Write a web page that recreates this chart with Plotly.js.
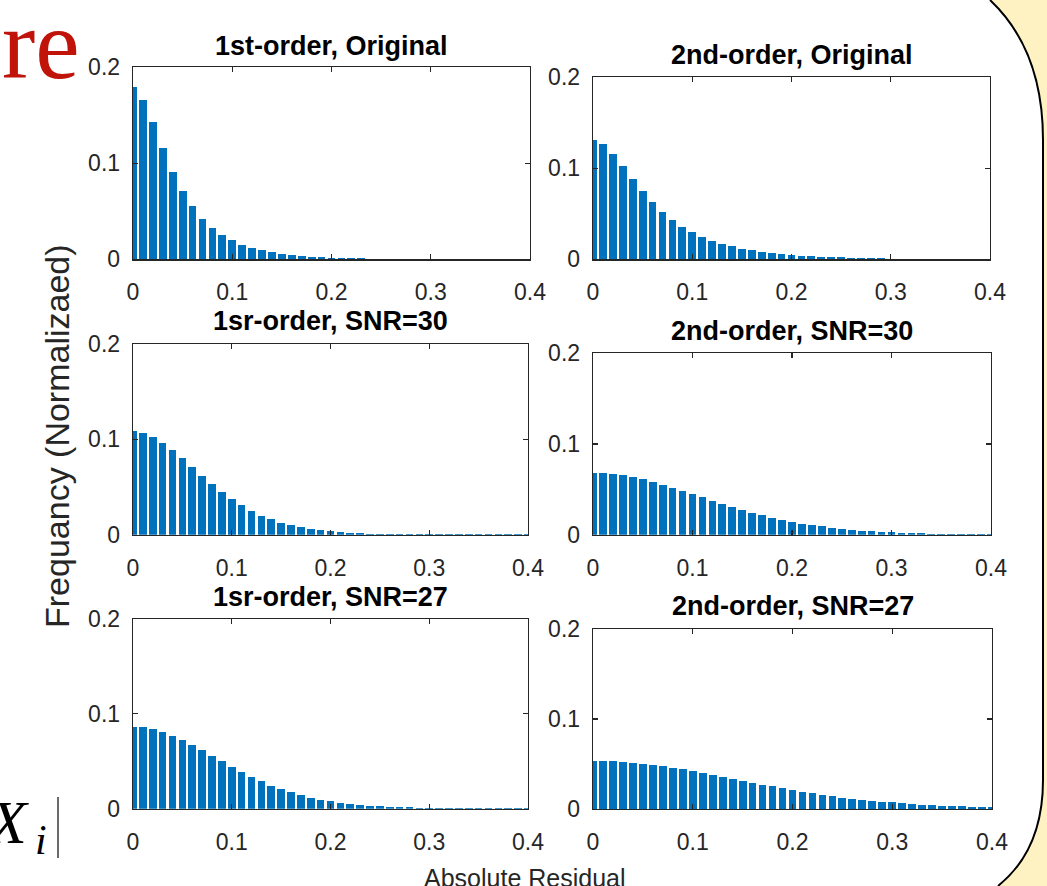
<!DOCTYPE html>
<html>
<head>
<meta charset="utf-8">
<script src="https://cdn.plot.ly/plotly-3.0.1.min.js"></script>
<style>html,body{margin:0;padding:0;background:#fff;}#chart{width:1047px;height:886px;}</style>
</head>
<body>
<div id="chart"></div>
<script>
// Bin centers (Absolute Residual)
const bins = [0,0.01,0.02,0.03,0.04,0.05,0.06,0.07,0.08,0.09,0.10,0.11,0.12,0.13,0.14,0.15,0.16,0.17,0.18,0.19,0.20,0.21,0.22,0.23,0.24,0.25,0.26,0.27,0.28,0.29,0.30,0.31,0.32,0.33,0.34,0.35,0.36,0.37,0.38,0.39,0.40];

const firstOriginal = [0.179,0.166,0.143,0.116,0.091,0.071,0.055,0.042,0.033,0.0255,0.020,0.015,0.012,0.0098,0.0077,0.0059,0.0045,0.0035,0.0025,0.0024,0.0014,0.001,0.001,0.001,0.0006,0.0005,0.0005,0.0004,0.0004,0.0003,0.0003,0.0003,0.0002,0.0002,0.0002,0.0002,0.0002,0.0002,0.0002,0.0002,0.0002];
const secondOriginal = [0.131,0.126,0.115,0.102,0.088,0.075,0.063,0.052,0.043,0.0355,0.030,0.0245,0.020,0.017,0.0146,0.0113,0.010,0.008,0.0069,0.0058,0.0047,0.0036,0.0036,0.0026,0.0026,0.0024,0.0015,0.0013,0.0012,0.0012,0.0008,0.0006,0.0005,0.0005,0.0005,0.0005,0.0005,0.0005,0.0004,0.0004,0.0004];
const firstSNR30 = [0.1084,0.1066,0.1024,0.0962,0.0888,0.0804,0.071,0.0615,0.0531,0.0448,0.0374,0.0311,0.0248,0.0196,0.0164,0.0122,0.0101,0.008,0.0059,0.0049,0.0038,0.0028,0.0017,0.0017,0.001,0.0008,0.0007,0.0006,0.0005,0.0005,0.0004,0.0004,0.0003,0.0003,0.0003,0.0003,0.0003,0.0003,0.0003,0.0003,0.0003];
const secondSNR30 = [0.0684,0.068,0.0669,0.0658,0.0636,0.0614,0.0581,0.0548,0.0515,0.0482,0.0449,0.0415,0.0371,0.0338,0.0305,0.0272,0.0239,0.0217,0.0184,0.0162,0.014,0.0118,0.0107,0.0096,0.0074,0.0063,0.0051,0.004,0.004,0.0029,0.0029,0.0018,0.0018,0.0018,0.0008,0.0007,0.0007,0.0007,0.0007,0.0006,0.0006];
const firstSNR27 = [0.0866,0.0863,0.0842,0.081,0.0768,0.0725,0.0673,0.062,0.0556,0.0504,0.044,0.0387,0.0335,0.0292,0.0239,0.0208,0.0176,0.0144,0.0113,0.0092,0.0081,0.006,0.0049,0.0039,0.0028,0.0028,0.0018,0.0018,0.0018,0.001,0.0007,0.0006,0.0005,0.0005,0.0004,0.0004,0.0004,0.0004,0.0004,0.0004,0.0004];
const secondSNR27 = [0.0535,0.0531,0.0531,0.052,0.0509,0.0498,0.0487,0.0476,0.0454,0.0443,0.0421,0.0399,0.0376,0.0354,0.0332,0.031,0.0288,0.0266,0.0255,0.0232,0.021,0.0188,0.0177,0.0155,0.0144,0.0122,0.0111,0.01,0.0089,0.0077,0.0077,0.0066,0.0055,0.0044,0.0044,0.0033,0.0033,0.0033,0.0022,0.0022,0.0018];

const panelTitles = ["1st-order, Original","2nd-order, Original","1sr-order, SNR=30","2nd-order, SNR=30","1sr-order, SNR=27","2nd-order, SNR=27"];
const xTicks = [0,0.1,0.2,0.3,0.4];
const xTickLabels = ["0","0.1","0.2","0.3","0.4"];
const yTicks = [0,0.1,0.2];
const yTickLabels = ["0","0.1","0.2"];
const xTitle = "Absolute Residual";
const yTitle = "Frequancy (Normalizaed)";

const series = [firstOriginal, secondOriginal, firstSNR30, secondSNR30, firstSNR27, secondSNR27];

const W = 1047, H = 886;
const px = x => x / W;
const py = y => 1 - y / H;

// axes boxes in pixels: [left, right, top, bottom]
const boxes = [
  [133, 530, 67, 259.3],
  [593, 990, 77, 259.3],
  [133, 528, 344, 534.7],
  [593, 991, 353, 534.7],
  [133, 528, 619, 808.7],
  [593, 992, 629, 809]
];
const titleY = [46, 55, 321, 331, 597, 606];

const axColor = '#262626';
const fontFam = '"Liberation Sans", Arial, Helvetica, sans-serif';
const serifFam = '"Liberation Serif", "DejaVu Serif", serif';

const traces = [];
const layout = {
  width: W, height: H,
  margin: {l:0, r:0, t:0, b:0},
  paper_bgcolor: '#ffffff',
  plot_bgcolor: '#ffffff',
  showlegend: false,
  bargap: 0,
  font: {family: fontFam, color: axColor, size: 23},
  annotations: [],
  shapes: []
};

series.forEach((vals, i) => {
  const n = i + 1;
  const xa = n === 1 ? 'x' : 'x' + n;
  const ya = n === 1 ? 'y' : 'y' + n;
  traces.push({
    type: 'bar', x: bins, y: vals, xaxis: xa, yaxis: ya,
    width: 0.0078,
    marker: {color: '#0072BD', line: {width: 0}},
    hoverinfo: 'x+y'
  });
  const b = boxes[i];
  const common = {
    showline: true, linecolor: axColor, linewidth: 1.3, mirror: 'ticks',
    ticks: 'inside', ticklen: 5, tickwidth: 1.3, tickcolor: axColor,
    showgrid: false, zeroline: false, fixedrange: true,
    tickfont: {family: fontFam, size: 23, color: axColor}
  };
  layout[n === 1 ? 'xaxis' : 'xaxis' + n] = Object.assign({}, common, {
    domain: [px(b[0]), px(b[1])], range: [0, 0.4], anchor: ya,
    tickmode: 'array', tickvals: xTicks, ticktext: xTickLabels, ticklabelstandoff: 12
  });
  layout[n === 1 ? 'yaxis' : 'yaxis' + n] = Object.assign({}, common, {
    domain: [py(b[3]), py(b[2])], range: [0, 0.2], anchor: xa,
    tickmode: 'array', tickvals: yTicks, ticktext: yTickLabels, ticklabelstandoff: 7
  });
  layout.annotations.push({
    xref: 'paper', yref: 'paper', x: px((b[0] + b[1]) / 2), y: py(titleY[i]),
    text: '<b>' + panelTitles[i] + '</b>', showarrow: false,
    xanchor: 'center', yanchor: 'middle',
    font: {family: fontFam, size: 27, color: '#000000'}
  });
});

// shared axis titles
layout.annotations.push({
  xref: 'paper', yref: 'paper', x: px(57), y: py(436), text: yTitle,
  textangle: -90, showarrow: false, xanchor: 'center', yanchor: 'middle',
  font: {family: fontFam, size: 34, color: axColor}
});
layout.annotations.push({
  xref: 'paper', yref: 'paper', x: px(525), y: py(878), text: xTitle,
  showarrow: false, xanchor: 'center', yanchor: 'middle',
  font: {family: fontFam, size: 25, color: axColor}
});

// slide decorations
layout.annotations.push({
  xref: 'paper', yref: 'paper', x: px(82), y: py(102), text: 're',
  showarrow: false, xanchor: 'right', yanchor: 'bottom',
  font: {family: serifFam, size: 100, color: '#C0140A'}
});
layout.annotations.push({
  xref: 'paper', yref: 'paper', x: px(31), y: py(822), text: '<i>X</i>',
  showarrow: false, xanchor: 'right', yanchor: 'middle',
  font: {family: serifFam, size: 62, color: '#000000'}
});
layout.annotations.push({
  xref: 'paper', yref: 'paper', x: px(41), y: py(840), text: '<i>i</i>',
  showarrow: false, xanchor: 'center', yanchor: 'middle',
  font: {family: serifFam, size: 42, color: '#000000'}
});
layout.shapes.push({
  type: 'line', xref: 'paper', yref: 'paper',
  x0: px(58), x1: px(58), y0: py(797), y1: py(858),
  line: {color: '#5a5a5a', width: 1.8}
});

// yellow panel on the right with curved border
const P = (x, y) => px(x).toFixed(5) + ',' + py(y).toFixed(5);
const curve = 'M ' + P(990, 0) + ' Q ' + P(1043, 50) + ' ' + P(1043, 140) +
  ' L ' + P(1043, 780) + ' Q ' + P(1043, 850) + ' ' + P(998, 886);
layout.shapes.push({
  type: 'path', xref: 'paper', yref: 'paper', layer: 'below',
  path: curve + ' L ' + P(1047, 886) + ' L ' + P(1047, 0) + ' Z',
  fillcolor: '#FFF2C2', line: {width: 0}
});
layout.shapes.push({
  type: 'path', xref: 'paper', yref: 'paper', layer: 'above',
  path: curve, line: {color: '#000000', width: 2}
});

Plotly.newPlot('chart', traces, layout, {displayModeBar: false, staticPlot: true});
</script>
</body>
</html>
